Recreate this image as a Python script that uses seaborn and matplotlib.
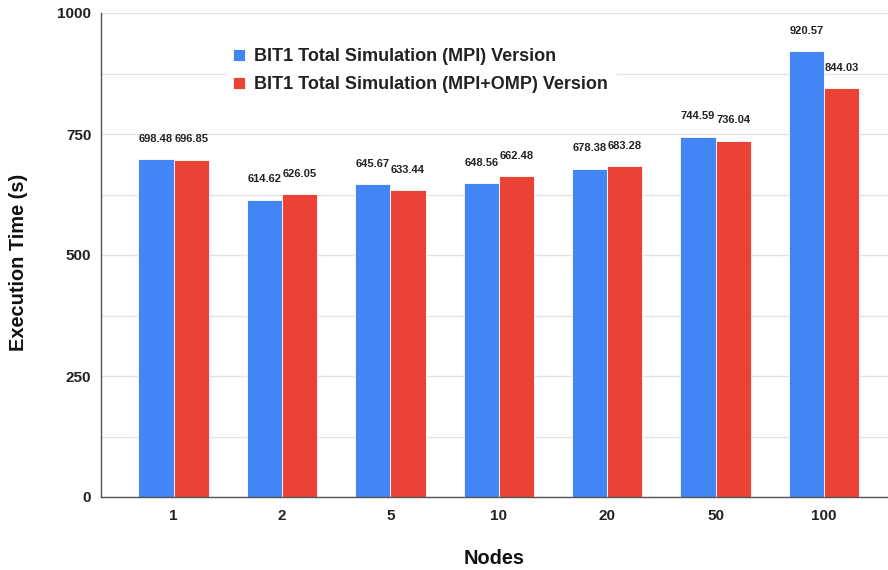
import matplotlib
matplotlib.use("Agg")
import matplotlib.pyplot as plt
import seaborn as sns
import pandas as pd
from matplotlib.ticker import MultipleLocator

nodes = ["1", "2", "5", "10", "20", "50", "100"]
mpi = [698.48, 614.62, 645.67, 648.56, 678.38, 744.59, 920.57]
mpi_omp = [696.85, 626.05, 633.44, 662.48, 683.28, 736.04, 844.03]
series_names = ["BIT1 Total Simulation (MPI) Version",
                "BIT1 Total Simulation (MPI+OMP) Version"]
colors = ["#4285F4", "#EA4335"]

df = pd.DataFrame({
    "Nodes": nodes * 2,
    "Time": mpi + mpi_omp,
    "Series": [series_names[0]] * len(nodes) + [series_names[1]] * len(nodes),
})

sns.set_theme(style="white")
plt.rcParams["font.family"] = ["Liberation Sans", "DejaVu Sans"]

fig = plt.figure(figsize=(8.88, 5.70), dpi=100)
ax = fig.add_axes([101/888, 1 - 497/570, 1 - 101/888, (497 - 13)/570])

sns.barplot(data=df, x="Nodes", y="Time", hue="Series", order=nodes,
            hue_order=series_names, palette=colors, width=0.65,
            edgecolor="white", linewidth=0.6, saturation=1, ax=ax)

for cont in ax.containers:
    ax.bar_label(cont, fmt="%.2f", padding=11, fontsize=8,
                 fontweight="bold", color="#222222")

ax.set_ylim(0, 1000)
ax.set_xlim(-0.67, 6.59)
ax.yaxis.set_major_locator(MultipleLocator(250))
ax.yaxis.set_minor_locator(MultipleLocator(125))
ax.grid(axis="y", which="both", color="#e4e4e4", linewidth=1)
ax.set_axisbelow(True)

for s in ["top", "right"]:
    ax.spines[s].set_visible(False)
ax.spines["left"].set_color("#555555")
ax.spines["bottom"].set_color("#555555")
ax.spines["left"].set_linewidth(1)
ax.spines["bottom"].set_linewidth(1)

ax.tick_params(axis="y", which="major", direction="in", length=6,
               width=1, color="#555555", pad=7)
ax.tick_params(axis="y", which="minor", length=0)
ax.tick_params(axis="x", length=0, pad=9)
for lbl in ax.get_yticklabels():
    lbl.set_fontsize(11)
    lbl.set_fontweight("bold")
    lbl.set_color("#222222")
for lbl in ax.get_xticklabels():
    lbl.set_fontsize(11)
    lbl.set_fontweight("bold")
    lbl.set_color("#222222")

ax.set_xlabel("Nodes", fontsize=14.4, fontweight="bold", color="#111111")
ax.xaxis.set_label_coords(0.5, -(559 - 497) / 484)
ax.xaxis.label.set_va("center")
ax.set_ylabel("Execution Time (s)", fontsize=14.4, fontweight="bold",
              color="#111111")
ax.yaxis.set_label_coords(-(101 - 19) / 787, (497 - 262) / 484)
ax.yaxis.label.set_va("center")

leg = ax.legend(loc="upper left", bbox_to_anchor=(0.148, 0.959),
                frameon=True, fancybox=False, framealpha=1,
                edgecolor="white", facecolor="white",
                handlelength=0.65, handleheight=0.65, handletextpad=0.55,
                labelspacing=0.6, borderpad=0.35,
                prop={"size": 13, "weight": "bold"})
for t in leg.get_texts():
    t.set_color("#222222")

fig.savefig("out.png", dpi=100)
